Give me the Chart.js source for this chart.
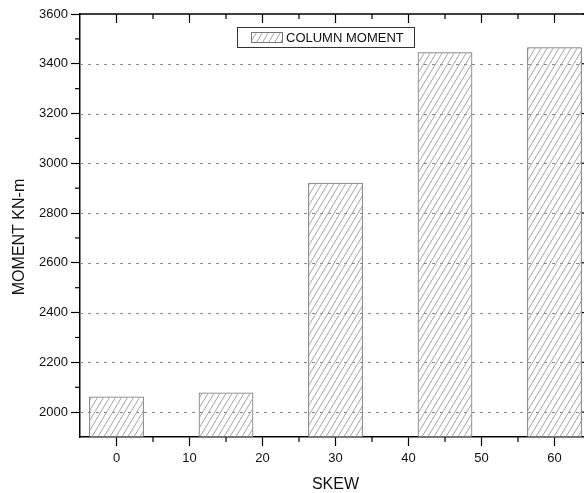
<!DOCTYPE html>
<html><head><meta charset="utf-8">
<script src="https://cdn.jsdelivr.net/npm/chart.js@4.4.0/dist/chart.umd.min.js"></script>
<style>html,body{margin:0;padding:0;background:#fff;overflow:hidden;width:584px;height:493px}canvas{display:block}</style>
</head><body>
<canvas id="c" width="600" height="493"></canvas>
<script>
const skew = [0, 15, 30, 45, 60];
const columnMoment = [2063, 2079, 2922, 3446, 3466];
const xTickValues = [0, 10, 20, 30, 40, 50, 60];
const yTickValues = [2000, 2200, 2400, 2600, 2800, 3000, 3200, 3400, 3600];
const xMinorValues = [5, 15, 25, 35, 45, 55];
const yMinorValues = [2100, 2300, 2500, 2700, 2900, 3100, 3300, 3500];
const seriesLabel = 'COLUMN MOMENT';
const xTitle = 'SKEW';
const yTitle = 'MOMENT KN-m';

const FONT = "'Liberation Sans', Arial, Helvetica, sans-serif";
const canvas = document.getElementById('c');
const mainCtx = canvas.getContext('2d');

function makeHatch() {
  const w = 6, h = 10;
  const c = document.createElement('canvas'); c.width = w; c.height = h;
  const g = c.getContext('2d');
  g.strokeStyle = '#9a9a9a'; g.lineWidth = 0.9;
  for (const o of [-w, 0, w]) { g.beginPath(); g.moveTo(o, h); g.lineTo(o + w, 0); g.stroke(); }
  return mainCtx.createPattern(c, 'repeat');
}
const hatch = makeHatch();

const framePlugin = {
  id: 'frame',
  beforeDatasetsDraw(chart) {
    const { ctx, chartArea: a, scales: { y } } = chart;
    ctx.save();
    ctx.strokeStyle = '#8a8a8a'; ctx.lineWidth = 1; ctx.setLineDash([3, 5]);
    for (const v of yTickValues) {
      if (v >= y.max) continue;
      const py = Math.round(y.getPixelForValue(v)) + 0.5;
      ctx.beginPath(); ctx.moveTo(a.left, py); ctx.lineTo(a.right, py); ctx.stroke();
    }
    ctx.restore();
  },
  afterDraw(chart) {
    const { ctx, chartArea: a, scales: { x, y } } = chart;
    ctx.save();
    ctx.strokeStyle = '#000'; ctx.lineWidth = 1.5;
    ctx.beginPath(); ctx.moveTo(a.left, a.top); ctx.lineTo(a.right, a.top); ctx.lineTo(a.right, a.bottom); ctx.stroke();
    ctx.lineWidth = 1.2;
    for (const v of xTickValues) { const px = x.getPixelForValue(v); ctx.beginPath(); ctx.moveTo(px, a.top); ctx.lineTo(px, a.top + 9); ctx.stroke(); }
    for (const v of xMinorValues) { const px = x.getPixelForValue(v); ctx.beginPath(); ctx.moveTo(px, a.top); ctx.lineTo(px, a.top + 5); ctx.stroke(); }
    for (const v of xMinorValues) { const px = x.getPixelForValue(v); ctx.beginPath(); ctx.moveTo(px, a.bottom); ctx.lineTo(px, a.bottom + 5); ctx.stroke(); }
    for (const v of yMinorValues) { const py = y.getPixelForValue(v); ctx.beginPath(); ctx.moveTo(a.left, py); ctx.lineTo(a.left - 5, py); ctx.stroke(); }
    for (const v of yTickValues) { const py = y.getPixelForValue(v); ctx.beginPath(); ctx.moveTo(a.right, py); ctx.lineTo(a.right - 9, py); ctx.stroke(); }
    ctx.fillStyle = '#111';
    ctx.font = '16px ' + FONT;
    ctx.textAlign = 'center'; ctx.textBaseline = 'middle';
    ctx.translate(19.5, 237); ctx.rotate(-Math.PI / 2);
    ctx.fillText(yTitle, 0, 0);
    ctx.restore();

    ctx.save();
    ctx.strokeStyle = '#333'; ctx.lineWidth = 1;
    ctx.fillStyle = '#fff';
    ctx.fillRect(237, 27, 177, 21);
    ctx.strokeRect(237.5, 27.5, 177, 20);
    ctx.fillStyle = hatch;
    ctx.fillRect(251, 32, 32, 11);
    ctx.strokeStyle = '#777';
    ctx.strokeRect(251.5, 32.5, 31, 10);
    ctx.fillStyle = '#111';
    ctx.font = '13px ' + FONT;
    ctx.textAlign = 'left'; ctx.textBaseline = 'middle';
    ctx.fillText(seriesLabel, 286, 38);
    ctx.restore();
  }
};

new Chart(mainCtx, {
  type: 'bar',
  data: {
    datasets: [{
      label: seriesLabel,
      data: skew.map((s, i) => ({ x: s, y: columnMoment[i] })),
      backgroundColor: hatch,
      borderColor: '#707070',
      borderWidth: 1,
      borderSkipped: false,
      base: 1900,
      categoryPercentage: 1,
      barPercentage: 0.75
    }]
  },
  options: {
    responsive: false,
    animation: false,
    devicePixelRatio: 1,
    layout: { padding: { left: 0, right: 9, top: 14, bottom: 0 } },
    plugins: { legend: { display: false }, tooltip: { enabled: false } },
    scales: {
      x: {
        type: 'linear', min: -5, max: 65, offset: false,
        afterBuildTicks(s) { s.ticks = xTickValues.map(v => ({ value: v })); },
        afterFit(s) { s.height = 56; },
        grid: { offset: false, drawOnChartArea: false, drawTicks: true, tickLength: 9, tickColor: '#000', tickWidth: 1.2 },
        border: { display: true, color: '#000', width: 1.5 },
        ticks: { color: '#111', font: { family: FONT, size: 13 }, padding: 5, maxRotation: 0, autoSkip: false, callback: v => String(v) },
        title: { display: true, text: xTitle, color: '#111', font: { family: FONT, size: 16, lineHeight: 1 }, padding: { top: 0, bottom: 0 } }
      },
      y: {
        type: 'linear', min: 1900, max: 3600,
        afterBuildTicks(s) { s.ticks = yTickValues.map(v => ({ value: v })); },
        afterFit(s) { s.width = 80; },
        grid: { drawOnChartArea: false, drawTicks: true, tickLength: 9, tickColor: '#000', tickWidth: 1.2 },
        border: { display: true, color: '#000', width: 1.5 },
        ticks: { color: '#111', font: { family: FONT, size: 13 }, padding: 3, autoSkip: false, callback: v => String(v) }
      }
    }
  },
  plugins: [framePlugin]
});
</script>
</body></html>
